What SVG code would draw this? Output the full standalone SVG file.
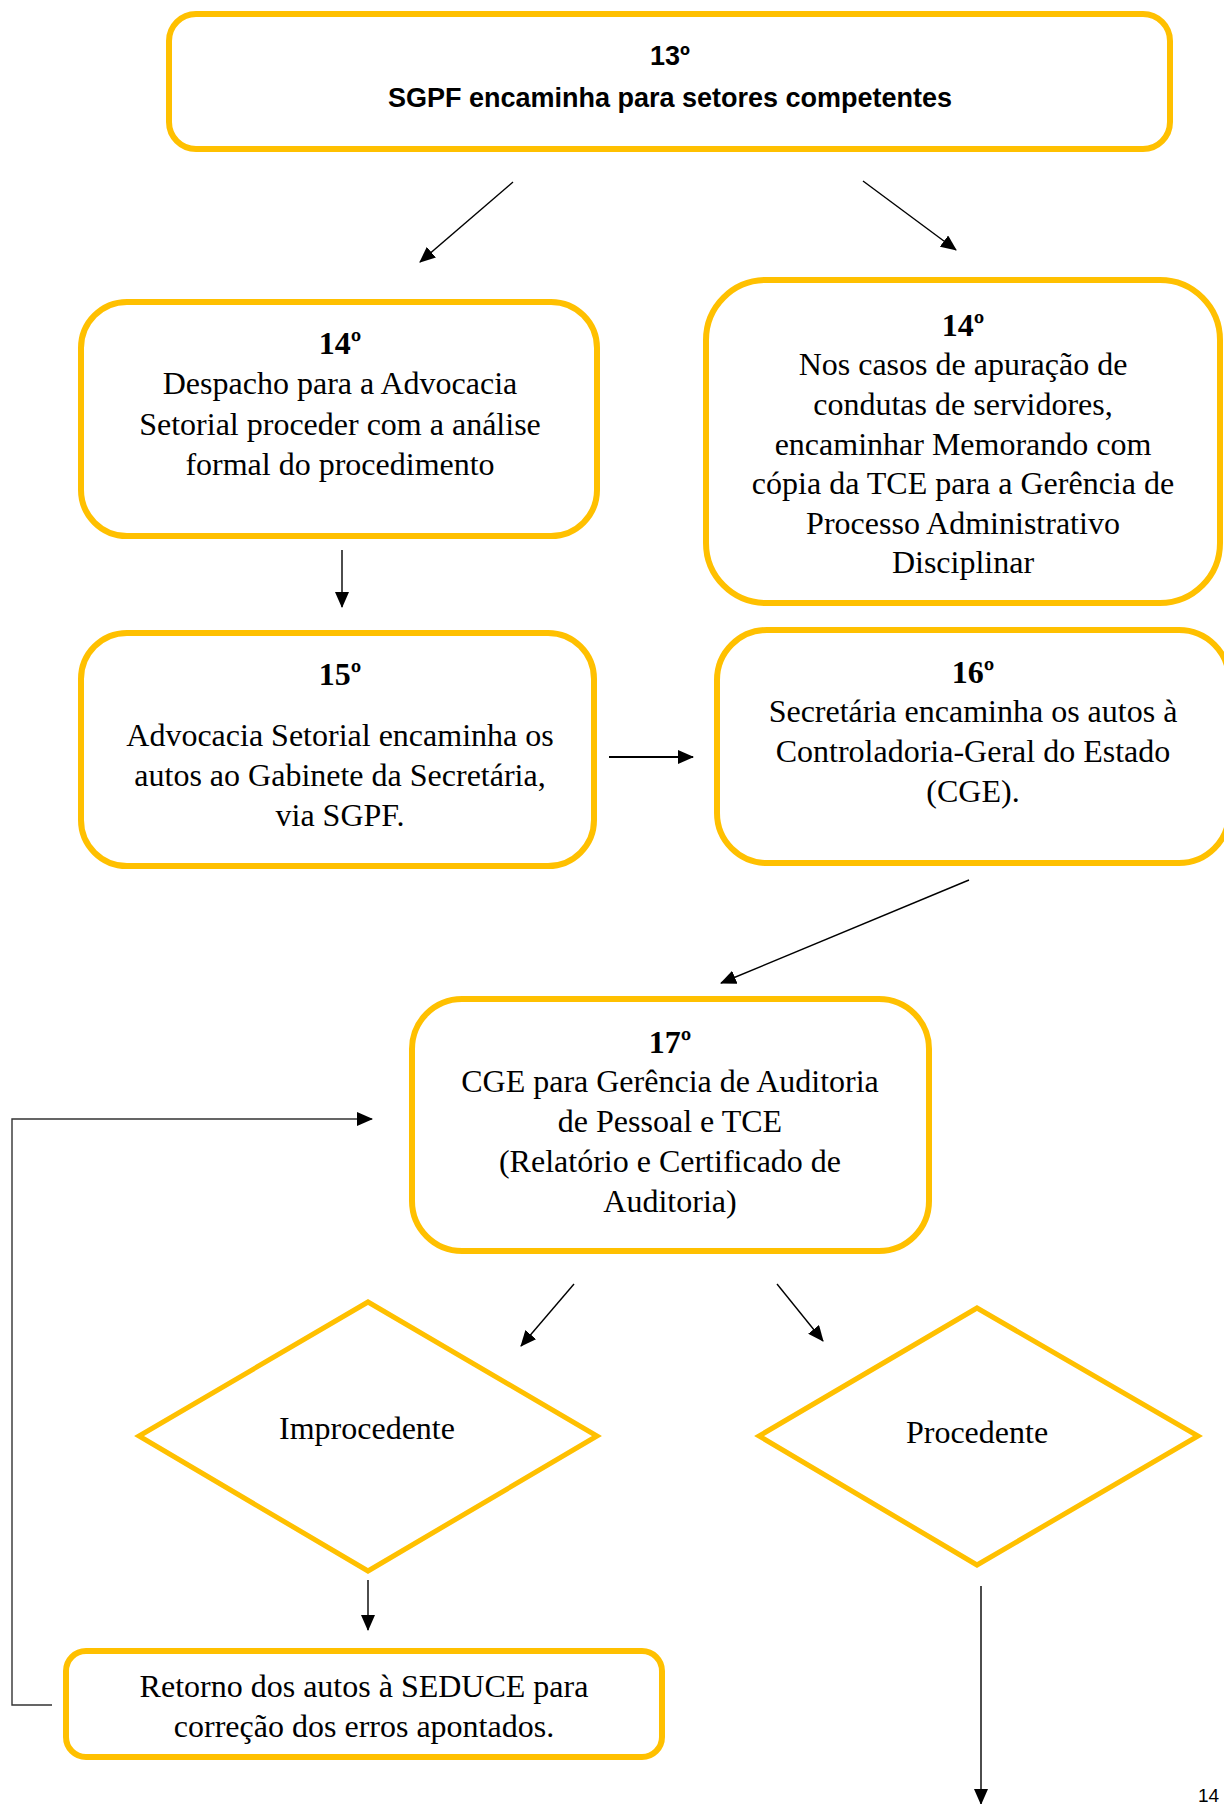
<svg xmlns="http://www.w3.org/2000/svg" width="1224" height="1804" viewBox="0 0 1224 1804">
<style>
.box{fill:#fff;stroke:#FFC000;stroke-width:6}
.dia{fill:#fff;stroke:#FFC000;stroke-width:5}
.t{font-family:"Liberation Serif","Times New Roman",serif;font-size:32px;fill:#000;text-anchor:middle}
.n{font-family:"Liberation Serif","Times New Roman",serif;font-size:32px;font-weight:bold;fill:#000;text-anchor:middle}
.s{font-family:"Liberation Sans",Arial,sans-serif;font-size:27px;font-weight:bold;fill:#000;text-anchor:middle}
.c{fill:none;stroke:#000;stroke-width:1.4}
</style>
<defs>
<marker id="ah" markerUnits="userSpaceOnUse" markerWidth="16" markerHeight="14" refX="15" refY="7" orient="auto">
<path d="M0,0 L16,7 L0,14 z" fill="#000"/>
</marker>
</defs>
<rect width="1224" height="1804" fill="#fff"/>
<g id="n13">
<rect class="box" x="169" y="14" width="1001" height="135" rx="27"/>
<text class="s" x="670" y="65">13º</text>
<text class="s" x="670" y="107">SGPF encaminha para setores competentes</text>
</g>
<g id="n14a">
<rect class="box" x="81" y="302" width="516" height="234" rx="46"/>
<text class="n" x="340" y="354">14º</text>
<text class="t" x="340" y="394">Despacho para a Advocacia</text>
<text class="t" x="340" y="435">Setorial proceder com a análise</text>
<text class="t" x="340" y="475">formal do procedimento</text>
</g>
<g id="n14b">
<rect class="box" x="706" y="280" width="514" height="323" rx="60"/>
<text class="n" x="963" y="336">14º</text>
<text class="t" x="963" y="375">Nos casos de apuração de</text>
<text class="t" x="963" y="415">condutas de servidores,</text>
<text class="t" x="963" y="455">encaminhar Memorando com</text>
<text class="t" x="963" y="494">cópia da TCE para a Gerência de</text>
<text class="t" x="963" y="534">Processo Administrativo</text>
<text class="t" x="963" y="573">Disciplinar</text>
</g>
<g id="n15">
<rect class="box" x="81" y="633" width="513" height="233" rx="46"/>
<text class="n" x="340" y="685">15º</text>
<text class="t" x="340" y="746">Advocacia Setorial encaminha os</text>
<text class="t" x="340" y="786">autos ao Gabinete da Secretária,</text>
<text class="t" x="340" y="826">via SGPF.</text>
</g>
<g id="n16">
<rect class="box" x="717" y="630" width="512" height="233" rx="50"/>
<text class="n" x="973" y="683">16º</text>
<text class="t" x="973" y="722">Secretária encaminha os autos à</text>
<text class="t" x="973" y="762">Controladoria-Geral do Estado</text>
<text class="t" x="973" y="802">(CGE).</text>
</g>
<g id="n17">
<rect class="box" x="412" y="999" width="517" height="252" rx="50"/>
<text class="n" x="670" y="1053">17º</text>
<text class="t" x="670" y="1092">CGE para Gerência de Auditoria</text>
<text class="t" x="670" y="1132">de Pessoal e TCE</text>
<text class="t" x="670" y="1172">(Relatório e Certificado de</text>
<text class="t" x="670" y="1212">Auditoria)</text>
</g>
<g id="improcedente">
<polygon class="dia" points="368,1302 597,1436 368,1571 139,1436"/>
<text class="t" x="367" y="1439">Improcedente</text>
</g>
<g id="procedente">
<polygon class="dia" points="977,1308 1198,1436 977,1565 759,1436"/>
<text class="t" x="977" y="1443">Procedente</text>
</g>
<g id="retorno">
<rect class="box" x="66" y="1651" width="596" height="106" rx="20"/>
<text class="t" x="364" y="1697">Retorno dos autos à SEDUCE para</text>
<text class="t" x="364" y="1737">correção dos erros apontados.</text>
</g>
<g id="connectors">
<line class="c" x1="513" y1="182" x2="420" y2="262" marker-end="url(#ah)"/>
<line class="c" x1="863" y1="181" x2="956" y2="250" marker-end="url(#ah)"/>
<line class="c" x1="342" y1="550" x2="342" y2="607" marker-end="url(#ah)"/>
<line class="c" style="stroke-width:2" x1="609" y1="757" x2="693" y2="757" marker-end="url(#ah)"/>
<line class="c" x1="969" y1="880" x2="721" y2="983" marker-end="url(#ah)"/>
<line class="c" x1="574" y1="1284" x2="521" y2="1346" marker-end="url(#ah)"/>
<line class="c" x1="777" y1="1284" x2="823" y2="1341" marker-end="url(#ah)"/>
<line class="c" x1="368" y1="1580" x2="368" y2="1630" marker-end="url(#ah)"/>
<polyline class="c" style="stroke:#333" points="52,1705 12,1705 12,1119 372,1119" marker-end="url(#ah)"/>
<line class="c" x1="981" y1="1586" x2="981" y2="1804" marker-end="url(#ah)"/>
</g>
<text x="1198" y="1802" font-family="Liberation Sans, Arial, sans-serif" font-size="19" fill="#000">14</text>
</svg>
